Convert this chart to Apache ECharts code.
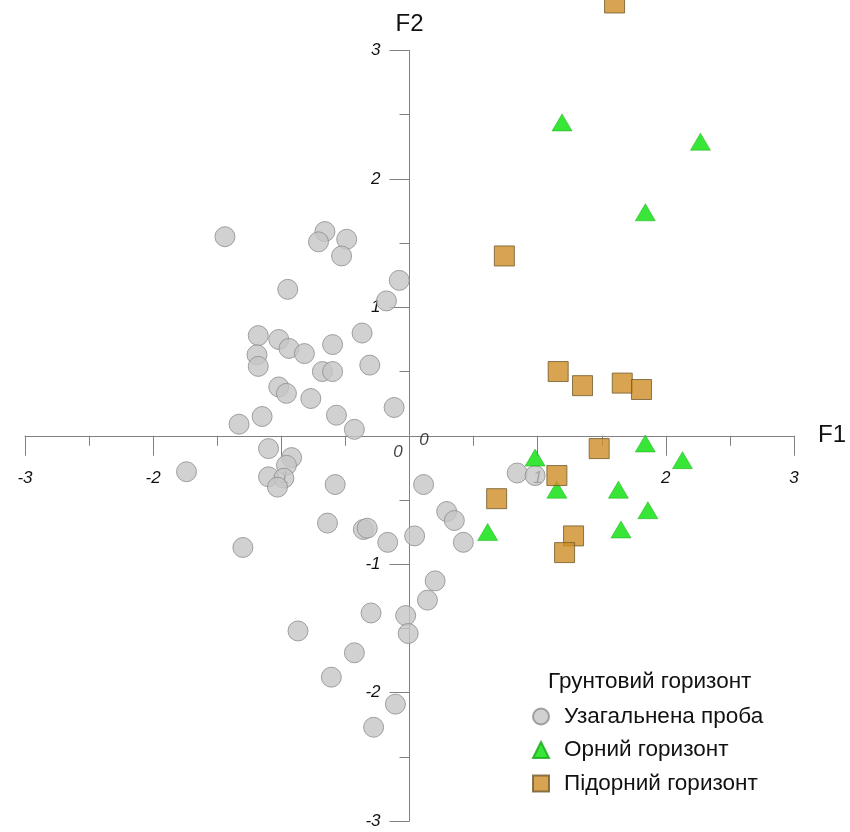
<!DOCTYPE html>
<html><head><meta charset="utf-8">
<script src="https://cdn.jsdelivr.net/npm/echarts@6/dist/echarts.min.js"></script>
<style>html,body{margin:0;padding:0;background:#fff}#c{width:850px;height:832px}</style>
</head><body><div id="c"></div>
<script>
const seriesNames = ['Узагальнена проба', 'Орний горизонт', 'Підорний горизонт'];
const legendTitle = 'Грунтовий горизонт';
const axisNames = ['F1', 'F2'];
const axisRange = [-3, 3];
const originLabel = '0';

// F1, F2 scores
const generalSample = [
  [-1.44, 1.55], [-0.66, 1.59], [-0.71, 1.51], [-0.49, 1.53], [-0.53, 1.40],
  [-0.95, 1.14], [-0.08, 1.21], [-0.18, 1.05], [-1.18, 0.78], [-1.19, 0.63],
  [-1.18, 0.54], [-1.02, 0.75], [-0.94, 0.68], [-0.82, 0.64], [-0.60, 0.71],
  [-0.37, 0.80], [-0.31, 0.55], [-0.68, 0.50], [-0.60, 0.50], [-1.02, 0.38],
  [-0.96, 0.33], [-0.77, 0.29], [-1.15, 0.15], [-1.33, 0.09], [-0.57, 0.16],
  [-0.43, 0.05], [-0.12, 0.22], [-1.10, -0.10], [-0.92, -0.17], [-0.96, -0.23],
  [-1.10, -0.32], [-0.98, -0.33], [-1.03, -0.40], [-1.74, -0.28], [-0.58, -0.38],
  [0.11, -0.38], [-0.64, -0.68], [-0.36, -0.73], [-0.33, -0.72], [-0.17, -0.83],
  [0.04, -0.78], [-1.30, -0.87], [0.29, -0.59], [0.35, -0.66], [0.42, -0.83],
  [0.20, -1.13], [0.14, -1.28], [-0.30, -1.38], [-0.03, -1.40], [-0.01, -1.54],
  [-0.87, -1.52], [-0.43, -1.69], [-0.61, -1.88], [-0.11, -2.09], [-0.28, -2.27],
  [0.84, -0.29], [0.98, -0.31]
];
const arableHorizon = [
  [1.19, 2.44], [2.27, 2.29], [1.84, 1.74], [1.84, -0.06], [0.98, -0.17],
  [2.13, -0.19], [1.15, -0.42], [1.63, -0.42], [1.86, -0.58], [0.61, -0.75],
  [1.65, -0.73]
];
const subarableHorizon = [
  [1.60, 3.37], [0.74, 1.40], [1.16, 0.50], [1.35, 0.39], [1.66, 0.41],
  [1.81, 0.36], [1.48, -0.10], [1.15, -0.31], [0.68, -0.49], [1.28, -0.78],
  [1.21, -0.91]
];

const FONT = '"Liberation Sans", Arial, sans-serif';
const AX = '#808080';
const GRID = { left: 25, right: 56, top: 50.5, bottom: 11 };
const W = 850, H = 832;
const gridW = W - GRID.left - GRID.right;
const gridH = H - GRID.top - GRID.bottom;
const chart = echarts.init(document.getElementById('c'));

// axes drawn through the origin (symmetric range -> middle of the grid)
function axis(name, gap, margin, position, offset) {
  return {
    type: 'value', min: axisRange[0], max: axisRange[1], interval: 1,
    position: position, offset: offset,
    name: name, nameLocation: 'end', nameGap: gap,
    nameTextStyle: { fontSize: 24, color: '#111', fontFamily: FONT },
    axisLine: { onZero: false, lineStyle: { color: AX, width: 1 } },
    axisTick: { show: true, length: 20, lineStyle: { color: AX, width: 1 } },
    minorTick: { show: true, splitNumber: 2, length: 10, lineStyle: { color: AX, width: 1 } },
    splitLine: { show: false }, minorSplitLine: { show: false },
    axisLabel: {
      margin: margin, fontSize: 17, fontStyle: 'italic', color: '#111', fontFamily: FONT,
      formatter: v => (v === 0 ? '' : String(v))
    }
  };
}

chart.setOption({
  animation: false,
  backgroundColor: '#fff',
  textStyle: { fontFamily: FONT },
  title: {
    text: legendTitle, left: 548, top: 670, padding: 0,
    textStyle: { fontSize: 22.5, fontWeight: 'normal', color: '#111', fontFamily: FONT }
  },
  legend: {
    data: seriesNames, orient: 'vertical', left: 532, top: 705, padding: 0,
    itemWidth: 16, itemHeight: 16, itemGap: 10.5,
    textStyle: { fontSize: 22.5, color: '#111', lineHeight: 22, padding: [0, 0, 0, 10], fontFamily: FONT }
  },
  grid: Object.assign({ containLabel: false, outerBoundsMode: 'none' }, GRID),
  xAxis: axis(axisNames[0], 24, 34, 'bottom', -gridH / 2),
  yAxis: axis(axisNames[1], 14, 29, 'left', -gridW / 2),
  series: [
    {
      name: seriesNames[0], type: 'scatter', data: generalSample, symbol: 'circle', symbolSize: 20,
      itemStyle: { color: '#c6c6c6', borderColor: '#8c8c8c', borderWidth: 1 }, z: 2
    },
    {
      name: seriesNames[1], type: 'scatter', data: arableHorizon, symbol: 'triangle', symbolSize: [20, 17],
      itemStyle: { color: '#05e005', borderColor: '#16a816', borderWidth: 0.6 }, z: 3
    },
    {
      name: seriesNames[2], type: 'scatter', data: subarableHorizon, symbol: 'rect', symbolSize: 20, clip: false,
      itemStyle: { color: '#cf8d25', borderColor: '#6f5a2c', borderWidth: 1 }, z: 4
    },
    {
      name: 'origin', type: 'scatter', silent: true, symbolSize: 1, z: 1,
      itemStyle: { color: 'rgba(0,0,0,0)' },
      label: { show: true, position: 'inside', formatter: originLabel, fontSize: 17, fontStyle: 'italic', color: '#111', fontFamily: FONT },
      data: [
        { value: [0, 0], label: { offset: [-11.5, 16.5] } },
        { value: [0, 0], label: { offset: [14.5, 5] } }
      ]
    }
  ]
});
</script>
</body></html>
